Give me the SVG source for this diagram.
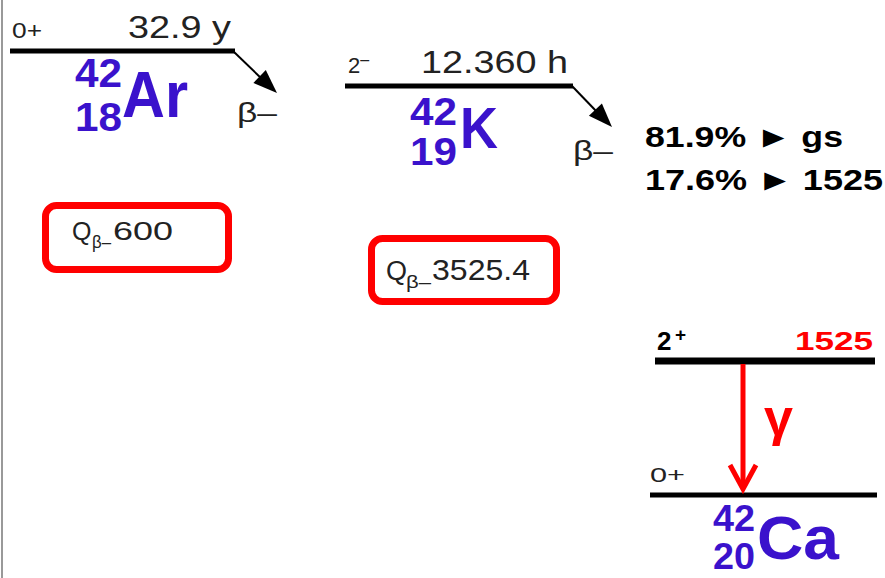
<svg xmlns="http://www.w3.org/2000/svg" width="885" height="578" viewBox="0 0 885 578">
<defs>
<style>
.t{font-family:"Liberation Sans",Arial,sans-serif;fill:#222}
.nuc{font-family:"Liberation Sans",Arial,sans-serif;font-weight:bold;fill:#3a12cc}
.b{font-family:"Liberation Sans",Arial,sans-serif;font-weight:bold;fill:#000}
.r{font-family:"Liberation Sans",Arial,sans-serif;font-weight:bold;fill:#f00}
.lvl{stroke:#000;fill:none}
.box{fill:#fff;stroke:#f00;stroke-width:7}
.ar{stroke:#000;stroke-width:2;fill:none}
.head{fill:#000}
</style>
</defs>
<rect width="885" height="578" fill="#fff"/>
<line x1="2" y1="0" x2="2" y2="578" stroke="#999" stroke-width="2"/>

<g id="ar42">
<line class="lvl" x1="10" y1="51" x2="235" y2="51" stroke-width="5"/>
<text class="t" x="12" y="38" font-size="22" textLength="30" lengthAdjust="spacingAndGlyphs">0+</text>
<text class="t" x="128" y="38" font-size="32" textLength="103" lengthAdjust="spacingAndGlyphs">32.9 y</text>
<text class="nuc" x="75" y="87" font-size="40" textLength="47" lengthAdjust="spacingAndGlyphs">42</text>
<text class="nuc" x="75" y="131" font-size="40" textLength="47" lengthAdjust="spacingAndGlyphs">18</text>
<text class="nuc" x="122" y="117" font-size="64" textLength="66" lengthAdjust="spacingAndGlyphs">Ar</text>
<text class="t" x="237" y="122" font-size="28" textLength="40" lengthAdjust="spacingAndGlyphs">β–</text>
</g>

<g id="k42">
<line class="lvl" x1="345" y1="86" x2="573" y2="86" stroke-width="5"/>
<text class="t" x="348" y="73" font-size="22">2<tspan font-size="16" dy="-8">–</tspan></text>
<text class="t" x="421" y="73" font-size="32" textLength="147" lengthAdjust="spacingAndGlyphs">12.360 h</text>
<text class="nuc" x="410" y="125" font-size="39" textLength="47" lengthAdjust="spacingAndGlyphs">42</text>
<text class="nuc" x="410" y="165" font-size="39" textLength="47" lengthAdjust="spacingAndGlyphs">19</text>
<text class="nuc" x="460" y="148" font-size="57" textLength="38" lengthAdjust="spacingAndGlyphs">K</text>
<text class="t" x="573" y="160" font-size="28" textLength="40" lengthAdjust="spacingAndGlyphs">β–</text>
<text class="b" x="645" y="147" font-size="30" textLength="198" lengthAdjust="spacingAndGlyphs">81.9% ► gs</text>
<text class="b" x="645" y="190" font-size="30" textLength="238" lengthAdjust="spacingAndGlyphs">17.6% ► 1525</text>
</g>

<g id="q-ar">
<rect class="box" x="45.5" y="205.5" width="183" height="64" rx="11"/>
<text class="t" x="72" y="240" font-size="25">Q</text>
<text class="t" x="92" y="248" font-size="18" textLength="19" lengthAdjust="spacingAndGlyphs">β–</text>
<text class="t" x="113" y="240" font-size="26" textLength="60" lengthAdjust="spacingAndGlyphs">600</text>
</g>

<g id="q-k">
<rect class="box" x="371.5" y="238.5" width="185" height="63" rx="11"/>
<text class="t" x="386" y="280" font-size="27">Q</text>
<text class="t" x="406" y="288" font-size="19" textLength="25" lengthAdjust="spacingAndGlyphs">β–</text>
<text class="t" x="432" y="280" font-size="29" textLength="98" lengthAdjust="spacingAndGlyphs">3525.4</text>
</g>

<g id="ca42">
<line class="lvl" x1="655" y1="361" x2="875" y2="361" stroke-width="7"/>
<text class="b" x="657" y="350" font-size="26">2</text>
<text class="b" x="675" y="341" font-size="19">+</text>
<text class="r" x="795" y="350" font-size="26" textLength="78" lengthAdjust="spacingAndGlyphs">1525</text>
<line class="lvl" x1="650" y1="495" x2="877" y2="495" stroke-width="5"/>
<text class="t" x="650" y="482" font-size="21" textLength="35" lengthAdjust="spacingAndGlyphs">0+</text>
<text class="nuc" x="713" y="531" font-size="36" textLength="42" lengthAdjust="spacingAndGlyphs">42</text>
<text class="nuc" x="713" y="569" font-size="36" textLength="42" lengthAdjust="spacingAndGlyphs">20</text>
<text class="nuc" x="757" y="559" font-size="62" textLength="82" lengthAdjust="spacingAndGlyphs">Ca</text>
<text class="r" x="764" y="435" font-size="52">γ</text>
</g>

<g id="connectors">
<line class="ar" x1="233" y1="51" x2="262" y2="79"/>
<polygon class="head" points="277,93 253.4,82.9 265.8,69.9"/>
<line class="ar" x1="572" y1="86" x2="598" y2="113"/>
<polygon class="head" points="612,127 588.9,115.8 601.9,103.4"/>
<line x1="743" y1="364" x2="743" y2="486" stroke="#f00" stroke-width="5"/>
<polyline points="730,465 743,489 756,465" fill="none" stroke="#f00" stroke-width="5"/>
</g>
</svg>
